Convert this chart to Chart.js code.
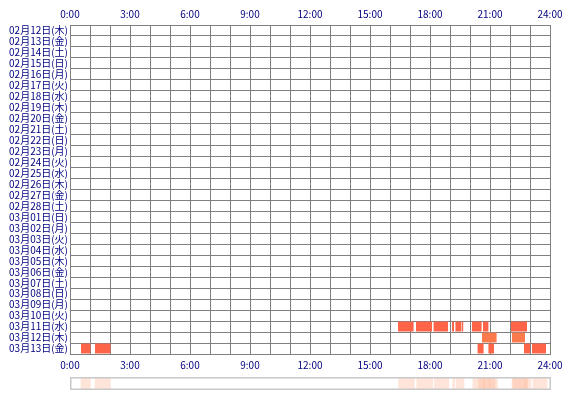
<!DOCTYPE html>
<html><head><meta charset="utf-8">
<script src="https://cdn.jsdelivr.net/npm/chart.js@4"></script>
<style>
body{margin:0;background:#fff;}
#main{position:absolute;left:0;top:0;}
#strip{position:absolute;left:70px;top:377px;}
</style></head><body>
<div id="main" style="width:570px;height:376px"><canvas id="mainChart"></canvas></div>
<div id="strip" style="width:481px;height:13px"><canvas id="stripChart"></canvas></div>
<script>
var days = ['02月12日(木)','02月13日(金)','02月14日(土)','02月15日(日)','02月16日(月)','02月17日(火)','02月18日(水)','02月19日(木)','02月20日(金)','02月21日(土)','02月22日(日)','02月23日(月)','02月24日(火)','02月25日(水)','02月26日(木)','02月27日(金)','02月28日(土)','03月01日(日)','03月02日(月)','03月03日(火)','03月04日(水)','03月05日(木)','03月06日(金)','03月07日(土)','03月08日(日)','03月09日(月)','03月10日(火)','03月11日(水)','03月12日(木)','03月13日(金)'];
var hourTicks = ['0:00','3:00','6:00','9:00','12:00','15:00','18:00','21:00','24:00'];

// session segments (hours)
var segDay   = ['03月11日(水)','03月11日(水)','03月11日(水)','03月11日(水)','03月11日(水)','03月11日(水)','03月11日(水)','03月11日(水)','03月11日(水)',
                '03月12日(木)','03月12日(木)',
                '03月13日(金)','03月13日(金)','03月13日(金)','03月13日(金)','03月13日(金)','03月13日(金)'];
var segStart = [16.4, 17.3, 18.18, 19.1, 19.27, 19.6, 20.1, 20.65, 22.05,
                20.6, 22.1,
                0.55, 1.25, 20.38, 20.92, 22.7, 23.1];
var segEnd   = [17.18, 18.1, 18.9, 19.2, 19.57, 19.66, 20.58, 20.92, 22.85,
                21.33, 22.75,
                1.02, 2.02, 20.68, 21.2, 23.0, 23.8];

var font = {family: '"Noto Sans CJK JP", sans-serif', size: 10};
var navy = '#000080';

var mainData = [], stripData = [];
for (var i = 0; i < segDay.length; i++) {
  mainData.push({y: segDay[i], x: [segStart[i], segEnd[i]]});
  stripData.push({y: 'all', x: [segStart[i], segEnd[i]]});
}
var barColors = segDay.map(function (d) { return d === '03月12日(木)' ? '#fa7a4c' : '#fe6448'; });

function tickCb(v) { return v % 3 === 0 ? hourTicks[v / 3] : ''; }

new Chart(document.getElementById('mainChart'), {
  type: 'bar',
  data: {datasets: [{data: mainData, backgroundColor: barColors, borderWidth: 0,
    barPercentage: 0.9, categoryPercentage: 1}]},
  options: {
    indexAxis: 'y', responsive: true, maintainAspectRatio: false, animation: false,
    layout: {padding: {left: 0, right: 20, top: 3, bottom: 0}},
    plugins: {legend: {display: false}, tooltip: {enabled: false}},
    scales: {
      y: {type: 'category', labels: days, offset: true,
        grid: {color: '#808080', lineWidth: 1, offset: true, drawTicks: false},
        border: {color: '#808080'},
        ticks: {color: navy, font: font, padding: 2, autoSkip: false},
        afterFit: function (s) { s.width = 70; }},
      x: {type: 'linear', position: 'bottom', min: 0, max: 24,
        grid: {color: '#808080', drawTicks: false}, border: {color: '#808080'},
        ticks: {stepSize: 1, autoSkip: false, maxRotation: 0, color: navy, font: font, padding: 5, callback: tickCb}},
      x2: {type: 'linear', position: 'top', min: 0, max: 24,
        grid: {display: false, drawTicks: false}, border: {color: '#808080'},
        ticks: {stepSize: 1, autoSkip: false, maxRotation: 0, color: navy, font: font, padding: 5, callback: tickCb}}
    }
  }
});

new Chart(document.getElementById('stripChart'), {
  type: 'bar',
  data: {datasets: [{data: stripData, backgroundColor: 'rgba(255,170,130,0.3)', borderWidth: 0,
    barPercentage: 1, categoryPercentage: 1}]},
  options: {
    indexAxis: 'y', responsive: true, maintainAspectRatio: false, animation: false,
    layout: {padding: 0},
    plugins: {legend: {display: false}, tooltip: {enabled: false}},
    scales: {
      y: {type: 'category', labels: ['all'], display: false},
      x: {type: 'linear', min: 0, max: 24, display: false}
    }
  },
  plugins: [{id: 'frame', afterDraw: function (c) {
    var a = c.chartArea, ctx = c.ctx;
    ctx.save(); ctx.strokeStyle = '#c8c8c8'; ctx.lineWidth = 1.5;
    ctx.strokeRect(a.left + 0.75, a.top + 0.75, a.right - a.left - 1.5, a.bottom - a.top - 1.5);
    ctx.restore();
  }}]
});
</script>
</body></html>
